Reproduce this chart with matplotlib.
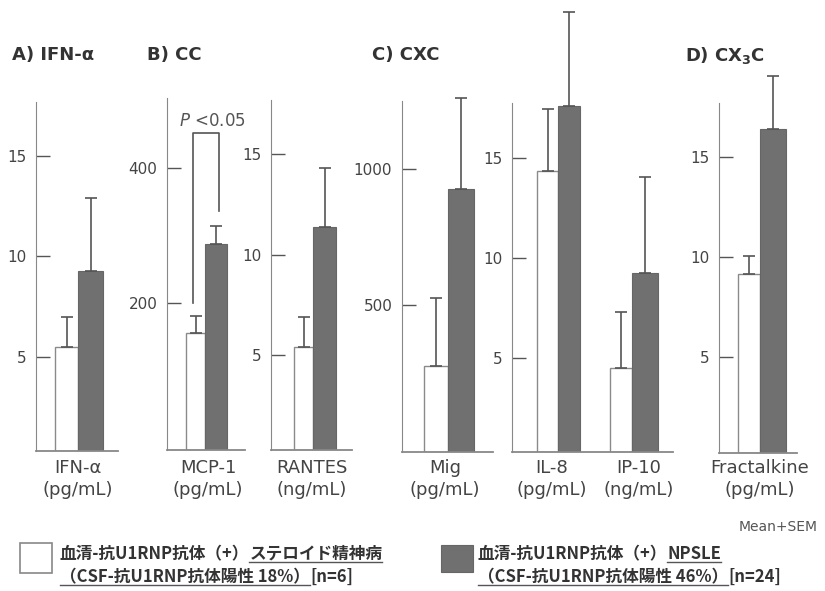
import matplotlib
matplotlib.use("Agg")
import matplotlib.pyplot as plt
from matplotlib.lines import Line2D
from matplotlib.patches import Rectangle

W, H = 825, 591

# values: mean and mean+SEM for both groups
markers = ["IFN-α", "MCP-1", "RANTES", "Mig", "IL-8", "IP-10", "Fractalkine"]
units = ["(pg/mL)", "(pg/mL)", "(ng/mL)", "(pg/mL)", "(pg/mL)", "(ng/mL)", "(pg/mL)"]
psych_mean = [5.5, 155, 5.4, 276, 14.35, 4.5, 9.15]
psych_upper = [7.0, 181, 6.9, 526, 17.45, 7.3, 10.05]
npsle_mean = [9.25, 287, 11.4, 926, 17.6, 9.25, 16.4]
npsle_upper = [12.9, 314, 14.3, 1261, 22.3, 14.05, 19.05]

panel_titles = ["A) IFN-α", "B) CC", "C) CXC", r"D) CX$_\mathbf{3}$C"]

# layout in image pixels: axis x, top y, baseline y, baseline end x, ylim, ticks, bar groups
axes_layout = [
    (36, 102, 451, 118, (0.3, 17.7), [5, 10, 15], [(0, 55, 78, 103)]),
    (167, 98, 450, 245, (-17.8, 504), [200, 400], [(1, 186, 205, 227)]),
    (271, 100, 450, 352, (0.27, 17.7), [5, 10, 15], [(2, 294, 313, 336)]),
    (402, 101, 452, 493, (-40, 1250), [500, 1000], [(3, 424, 448, 474)]),
    (512, 103, 452, 673, (0.3, 17.75), [5, 10, 15], [(4, 537, 558, 580), (5, 610, 632, 658)]),
    (719, 103, 453, 797, (0.2, 17.7), [5, 10, 15], [(6, 738, 760, 786)]),
]
label_x = [78, 208, 312, 445, 552, 639, 760]
title_x = [12, 147, 372, 685]

DARK = "#707070"
GREY = "#555555"

fig = plt.figure(figsize=(W / 100, H / 100), dpi=100)


def fx(x):
    return x / W


def fy(y):
    return 1 - y / H


for ax_x, top, base, end, ylim, ticks, groups in axes_layout:
    ax = fig.add_axes([fx(ax_x), fy(base), (end - ax_x) / W, (base - top) / H])
    ax.set_xlim(ax_x, end)
    ax.set_ylim(*ylim)
    lo = ylim[0]
    for i, l, m, r in groups:
        ax.bar(l, psych_mean[i] - lo, bottom=lo, width=m - l, align="edge",
               color="white", edgecolor="#8a8a8a", linewidth=1)
        ax.bar(m, npsle_mean[i] - lo, bottom=lo, width=r - m, align="edge",
               color=DARK, edgecolor="#666666", linewidth=0.8)
        for cx, mean, up in [((l + m) / 2, psych_mean[i], psych_upper[i]),
                             ((m + r) / 2, npsle_mean[i], npsle_upper[i])]:
            ax.errorbar(cx, mean, yerr=[[0], [up - mean]], fmt="none", ecolor=GREY,
                        elinewidth=1.2, capsize=4, capthick=1.2, clip_on=False)
    for s in ["top", "right"]:
        ax.spines[s].set_visible(False)
    ax.spines["left"].set_color("#888888")
    ax.spines["bottom"].set_color("#888888")
    ax.spines["bottom"].set_linewidth(1.3)
    ax.set_yticks(ticks)
    ax.set_xticks([])
    ax.tick_params(axis="y", direction="in", length=10, width=1, color=GREY,
                   labelsize=11, labelcolor="#444444", pad=7)
    ax.patch.set_alpha(0)
    if ax_x == 167:
        # significance bracket MCP-1
        ax.plot([193, 193, 219, 219], [200, 452, 452, 336], color=GREY, lw=1.2, clip_on=False)

fig.text(fx(212), fy(121), r"$\mathit{P}$ <0.05", ha="center", va="center",
         fontsize=12, color=GREY)

for i, name in enumerate(markers):
    fig.text(fx(label_x[i]), fy(479), name + "\n" + units[i], ha="center", va="center",
             multialignment="center", fontsize=13, color="#444444", linespacing=1.25)

for t, x in zip(panel_titles, title_x):
    fig.text(fx(x), fy(55), t, ha="left", va="center", fontsize=13,
             fontweight="bold", color="#333333")

fig.text(fx(818), fy(527), "Mean+SEM", ha="right", va="center", fontsize=10, color=GREY)

# legend
fig.add_artist(Rectangle((fx(20), fy(573)), 32 / W, 30 / H, transform=fig.transFigure,
                         facecolor="white", edgecolor="#888888", lw=1.2))
fig.add_artist(Rectangle((fx(441), fy(572)), 32 / W, 27 / H, transform=fig.transFigure,
                         facecolor=DARK, edgecolor="#666666", lw=0.8))

renderer = fig.canvas.get_renderer()
cjk = ["Noto Sans CJK JP", "DejaVu Sans"]


def text_run(x, y, pieces):
    for s, ul in pieces:
        t = fig.text(fx(x), fy(y), s, ha="left", va="center", fontsize=12,
                     fontweight="bold", family=cjk, color="#333333")
        bb = t.get_window_extent(renderer=renderer)
        if ul:
            fig.add_artist(Line2D([bb.x0 / W, bb.x1 / W], [(bb.y0 + 1) / H, (bb.y0 + 1) / H],
                                  transform=fig.transFigure, color=GREY, lw=1))
        x = bb.x1


text_run(60, 554, [("血清-抗U1RNP抗体（+）", False), ("ステロイド精神病", True)])
text_run(60, 577, [("（CSF-抗U1RNP抗体陽性 18%）", True), ("[n=6]", False)])
text_run(478, 554, [("血清-抗U1RNP抗体（+）", False), ("NPSLE", True)])
text_run(478, 577, [("（CSF-抗U1RNP抗体陽性 46%）", True), ("[n=24]", False)])

fig.savefig("out.png", dpi=100)
